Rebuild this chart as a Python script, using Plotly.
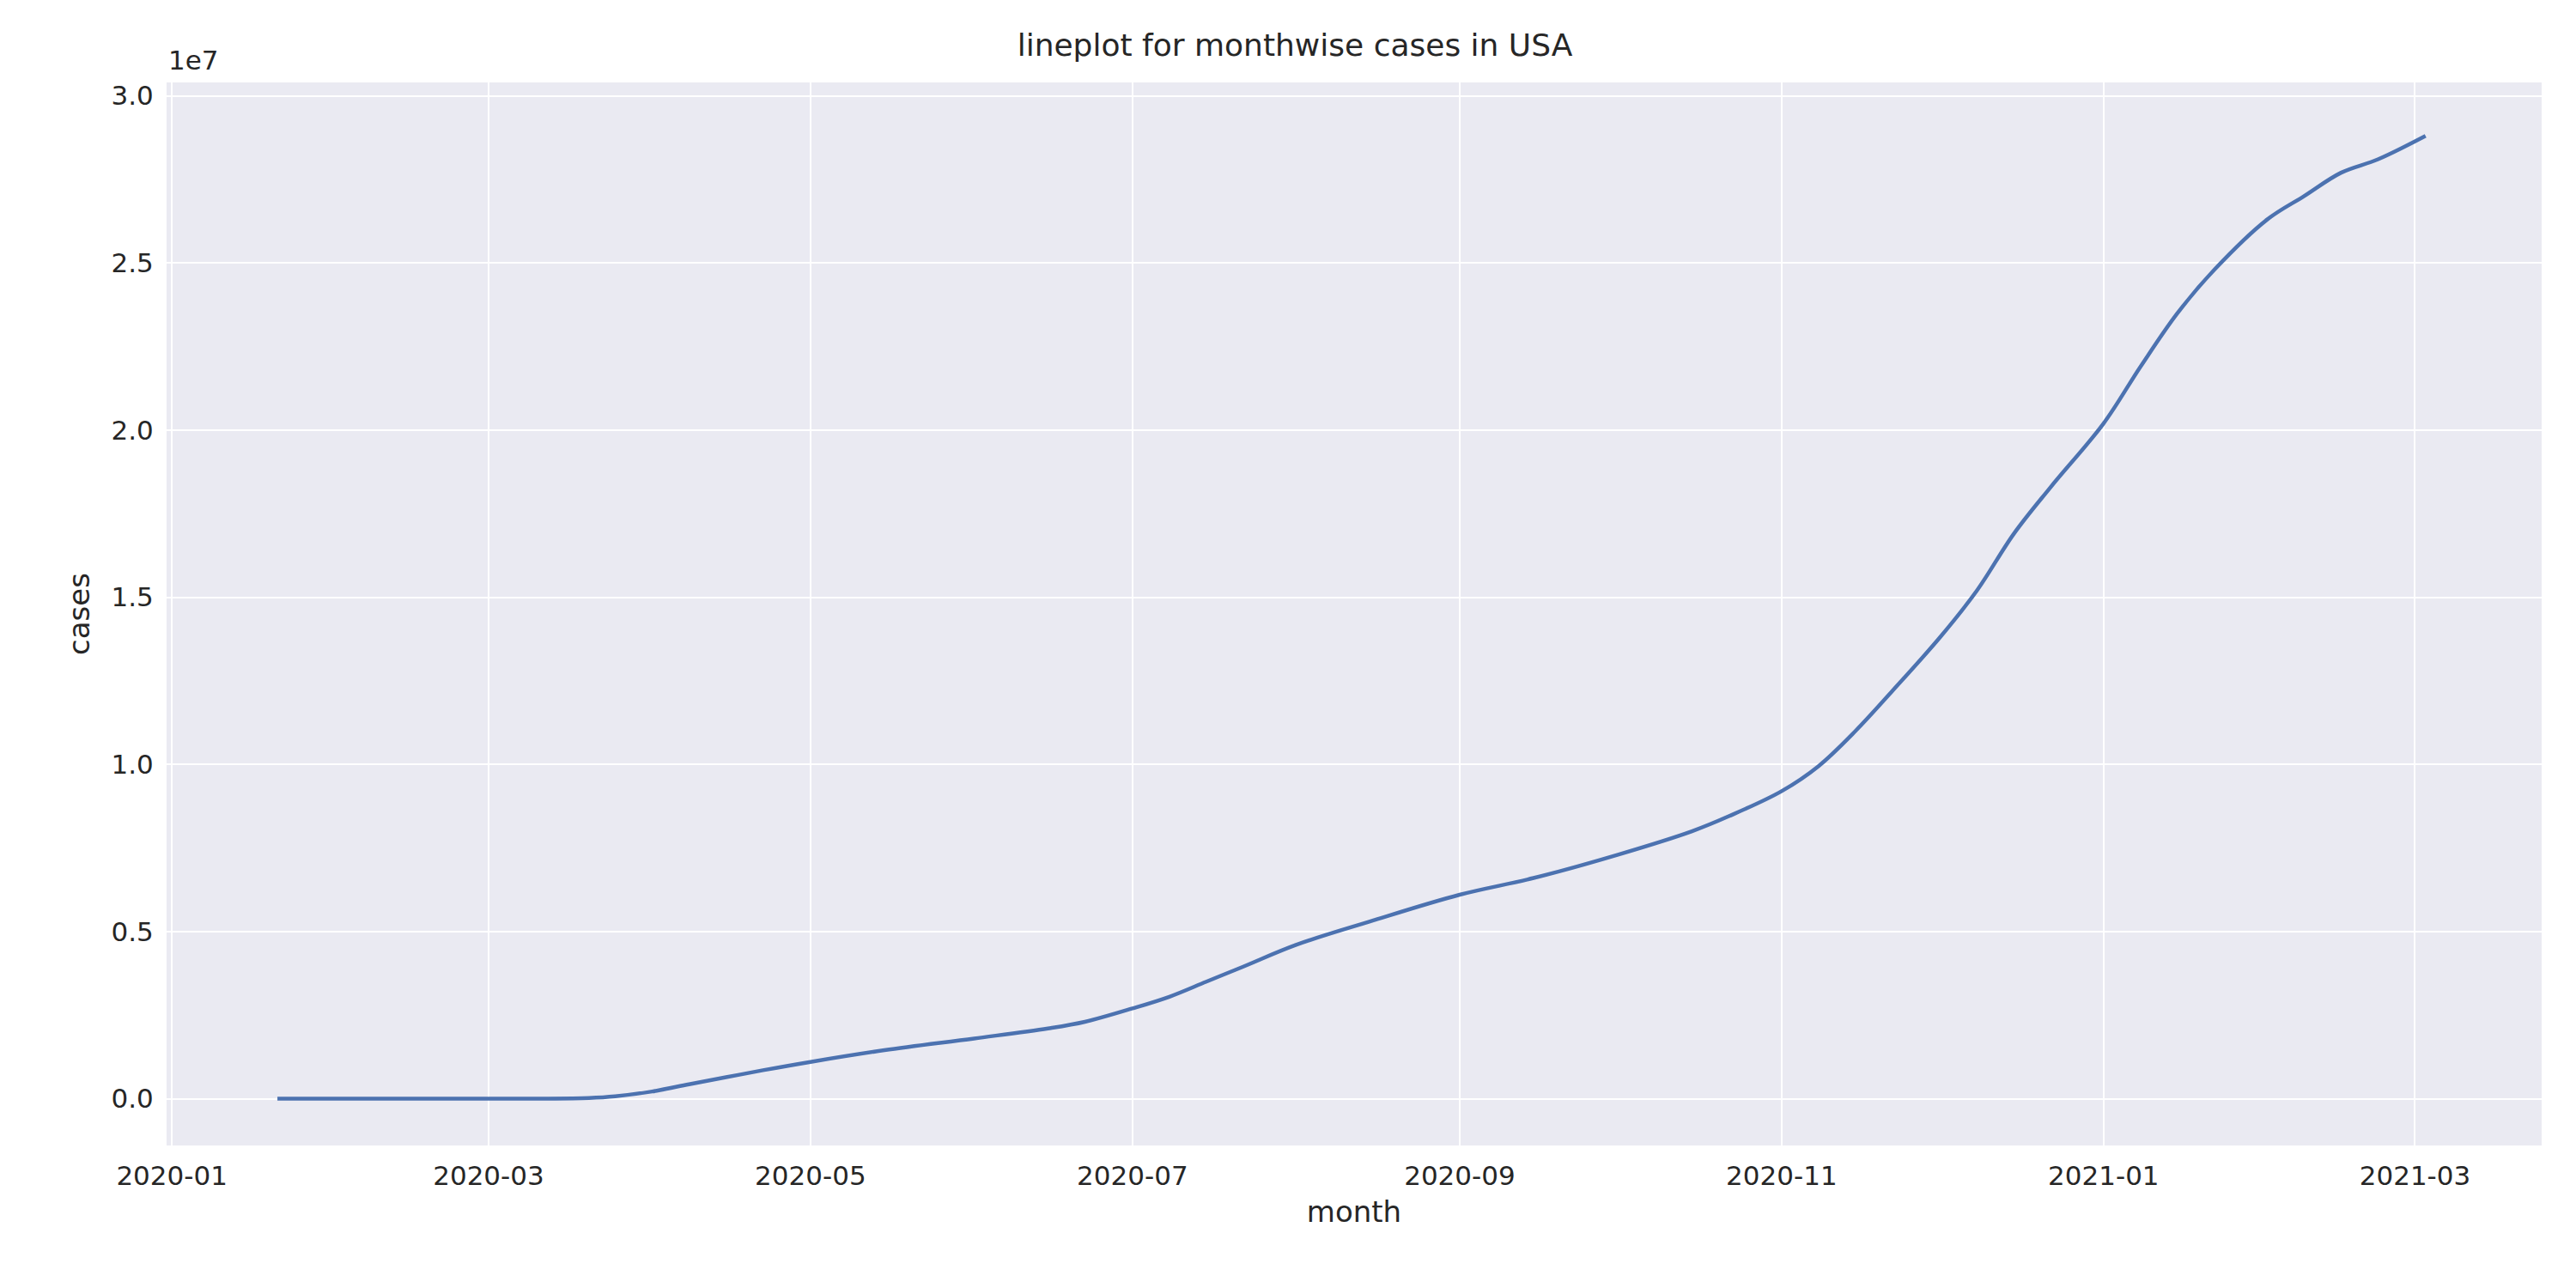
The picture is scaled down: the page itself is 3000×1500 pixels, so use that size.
import plotly.graph_objects as go

# cumulative US cases
dates = ["2020-01-21", "2020-02-15", "2020-03-10", "2020-03-20", "2020-03-25", "2020-04-01",
         "2020-04-08", "2020-04-15", "2020-04-22", "2020-05-01", "2020-05-15", "2020-06-01",
         "2020-06-15", "2020-06-22", "2020-07-01", "2020-07-08", "2020-07-15", "2020-07-22",
         "2020-08-01", "2020-08-15", "2020-09-01", "2020-09-15", "2020-10-01", "2020-10-15",
         "2020-10-22", "2020-11-01", "2020-11-08", "2020-11-15", "2020-11-22", "2020-12-01",
         "2020-12-08", "2020-12-15", "2020-12-22", "2021-01-01", "2021-01-08", "2021-01-15",
         "2021-01-22", "2021-02-01", "2021-02-08", "2021-02-15", "2021-02-22", "2021-03-03"]
cases = [1, 15, 1000, 20000, 70000, 215000,
         430000, 640000, 850000, 1100000, 1450000, 1800000,
         2100000, 2300000, 2700000, 3050000, 3500000, 3950000,
         4600000, 5300000, 6100000, 6600000, 7300000, 8000000,
         8450000, 9200000, 9950000, 11000000, 12200000, 13800000,
         15200000, 16900000, 18300000, 20200000, 21900000, 23500000,
         24800000, 26300000, 27000000, 27700000, 28100000, 28800000]

ytick_vals = [0, 5e6, 1e7, 1.5e7, 2e7, 2.5e7, 3e7]
ytick_text = ["0.0", "0.5", "1.0", "1.5", "2.0", "2.5", "3.0"]

fig = go.Figure()
fig.add_trace(go.Scatter(x=dates, y=cases, mode="lines", line_shape="spline",
                         line=dict(color="#4C72B0", width=4.5)))

font = dict(family="DejaVu Sans", size=31, color="#262626")
fig.update_layout(
    width=3000, height=1500,
    paper_bgcolor="white", plot_bgcolor="#EAEAF2",
    margin=dict(l=186, r=48, t=88, b=174),
    showlegend=False, font=font,
    title=dict(text="lineplot for monthwise cases in USA", x=0.5, xanchor="center",
               y=1 - 44 / 1500, yanchor="middle", font=dict(size=36, family="DejaVu Sans")),
)
fig.update_xaxes(type="date", range=["2019-12-31", "2021-03-25"], tickformat="%Y-%m",
                 dtick="M2", tick0="2020-01-01", gridcolor="white", gridwidth=1.5,
                 showline=False, zeroline=False, ticks="outside", ticklen=8, tickcolor="rgba(0,0,0,0)",
                 title=dict(text="month", font=dict(size=34), standoff=12))
fig.update_yaxes(range=[-0.14e7, 3.04e7], tickvals=ytick_vals, ticktext=ytick_text,
                 gridcolor="white", gridwidth=1.5, zeroline=False, showline=False,
                 ticks="outside", ticklen=8, tickcolor="rgba(0,0,0,0)",
                 title=dict(text="cases", font=dict(size=34), standoff=14))
fig.add_annotation(text="1e7", xref="paper", yref="paper", x=0, y=1.005,
                   xanchor="left", yanchor="bottom", showarrow=False, font=dict(size=31))

fig.write_html("out.html")
